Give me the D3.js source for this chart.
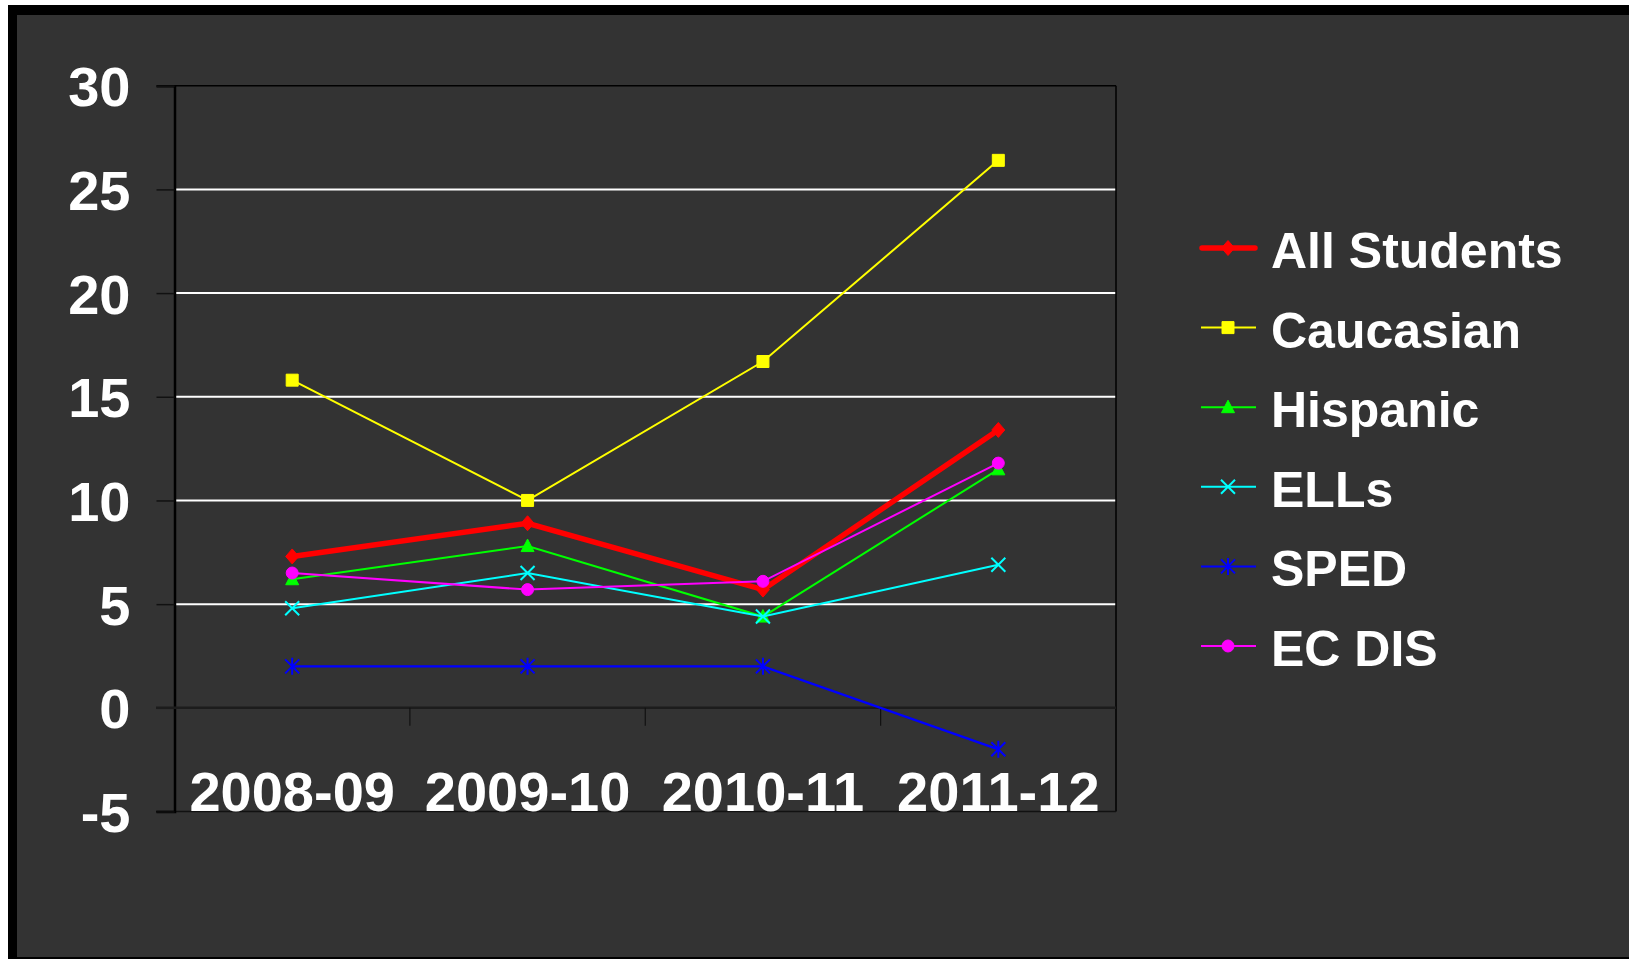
<!DOCTYPE html>
<html>
<head>
<meta charset="utf-8">
<script src="https://cdn.jsdelivr.net/npm/d3@7.9.0/dist/d3.min.js"></script>
<style>
  html, body { margin: 0; padding: 0; background: #fff; }
  svg { display: block; }
  text { font-family: "Liberation Sans", Arial, sans-serif; font-weight: bold; fill: #fff; }
</style>
</head>
<body>
<svg id="chart" width="1629" height="959"></svg>
<script>
// data
let years = ['2008-09', '2009-10', '2010-11', '2011-12'];
let yTicks = [-5, 0, 5, 10, 15, 20, 25, 30];

let allStudents = [7.3, 8.9, 5.7, 13.4];
let caucasian = [15.8, 10.0, 16.7, 26.4];
let hispanic = [6.2, 7.8, 4.4, 11.5];
let ells = [4.8, 6.5, 4.4, 6.9];
let sped = [2.0, 2.0, 2.0, -2.0];
let ecDis = [6.5, 5.7, 6.1, 11.8];

let seriesNames = ['All Students', 'Caucasian', 'Hispanic', 'ELLs', 'SPED', 'EC DIS'];
let seriesValues = [allStudents, caucasian, hispanic, ells, sped, ecDis];
let seriesColors = ['#ff0000', '#ffff00', '#00ff00', '#00ffff', '#0000ff', '#ff00ff'];
let seriesMarkers = ['diamond', 'square', 'triangle', 'x', 'star', 'circle'];

let svg = d3.select('#chart');

// background + frame
svg.append('rect').attr('x', 8).attr('y', 5).attr('width', 1621).attr('height', 954).attr('fill', '#000');
svg.append('rect').attr('x', 17).attr('y', 15).attr('width', 1612).attr('height', 942).attr('fill', '#333333');

let x = d3.scaleBand().domain(years).range([174.5, 1116]);
let y = d3.scaleLinear().domain([-5, 30]).range([811.5, 85.7]);

// gridlines
yTicks.filter((t) => t > 0 && t < 30).forEach((t) => {
  svg.append('line')
    .attr('x1', 174.5).attr('x2', 1116)
    .attr('y1', y(t)).attr('y2', y(t))
    .attr('stroke', '#fff').attr('stroke-width', 2);
});

// plot border (top, right, bottom)
svg.append('line').attr('x1', 174.5).attr('x2', 1116).attr('y1', y(30)).attr('y2', y(30))
  .attr('stroke', '#000').attr('stroke-width', 1.5);
svg.append('line').attr('x1', 1116).attr('x2', 1116).attr('y1', y(30)).attr('y2', y(-5))
  .attr('stroke', '#000').attr('stroke-width', 1.5);
svg.append('line').attr('x1', 156).attr('x2', 1116).attr('y1', y(-5)).attr('y2', y(-5))
  .attr('stroke', '#111').attr('stroke-width', 1.5);

// y axis
let yAxis = d3.axisLeft(y).tickValues(yTicks).tickSize(18).tickPadding(26)
  .tickFormat((d) => String(d));
let gy = svg.append('g').attr('transform', 'translate(174.5,0)').call(yAxis);
gy.select('.domain').attr('stroke', '#000').attr('stroke-width', 2.5);
gy.selectAll('.tick line').attr('stroke', '#111').attr('stroke-width', 1.5);
gy.selectAll('.tick text')
  .attr('fill', '#fff').attr('font-size', 56)
  .attr('font-family', '"Liberation Sans", Arial, sans-serif')
  .attr('font-weight', 'bold')
  .attr('dy', '0.36em');

// x axis at zero with ticks between categories
svg.append('line').attr('x1', 156).attr('x2', 1116).attr('y1', y(0)).attr('y2', y(0))
  .attr('stroke', '#1c1c1c').attr('stroke-width', 2.5);
years.slice(1).forEach((yr) => {
  svg.append('line')
    .attr('x1', x(yr)).attr('x2', x(yr))
    .attr('y1', y(0)).attr('y2', y(0) + 18)
    .attr('stroke', '#111').attr('stroke-width', 1.2);
});
years.forEach((yr) => {
  svg.append('text')
    .attr('x', x(yr) + x.bandwidth() / 2)
    .attr('y', 811)
    .attr('text-anchor', 'middle')
    .attr('font-size', 56)
    .text(yr);
});

// marker shapes
function markerPath(kind) {
  if (kind === 'diamond') return 'M0,-7.5L6.5,0L0,7.5L-6.5,0Z';
  if (kind === 'square') return 'M-6,-6H6V6H-6Z';
  if (kind === 'triangle') return 'M0,-7L6.5,5.5H-6.5Z';
  if (kind === 'x') return 'M-7,-7L7,7M7,-7L-7,7';
  if (kind === 'star') return 'M-7,-7L7,7M7,-7L-7,7M0,-8.5V8.5';
  return d3.symbol(d3.symbolCircle, 113)();
}

function drawMarker(g, kind, color, cx, cy) {
  let open = kind === 'x' || kind === 'star';
  g.append('path')
    .attr('d', markerPath(kind))
    .attr('transform', `translate(${cx},${cy})`)
    .attr('fill', open ? 'none' : color)
    .attr('stroke', color)
    .attr('stroke-width', open ? 2 : 1);
}

let line = d3.line()
  .x((d, i) => x(years[i]) + x.bandwidth() / 2)
  .y((d) => y(d));

seriesValues.forEach((vals, s) => {
  let g = svg.append('g');
  g.append('path')
    .attr('d', line(vals))
    .attr('fill', 'none')
    .attr('stroke', seriesColors[s])
    .attr('stroke-width', s === 0 ? 5.5 : (s === 4 ? 2.4 : 2));
  vals.forEach((v, i) => {
    drawMarker(g, seriesMarkers[s], seriesColors[s], x(years[i]) + x.bandwidth() / 2, y(v));
  });
});

// legend
let legendTop = 268;
let legendStep = 79.6;
seriesNames.forEach((name, s) => {
  let base = legendTop + s * legendStep;
  let ly = base - 20;
  let g = svg.append('g');
  g.append('line')
    .attr('x1', s === 0 ? 1202 : 1201).attr('x2', s === 0 ? 1255 : 1256)
    .attr('y1', ly).attr('y2', ly)
    .attr('stroke', seriesColors[s])
    .attr('stroke-width', s === 0 ? 5.5 : 2)
    .attr('stroke-linecap', s === 0 ? 'round' : 'butt');
  drawMarker(g, seriesMarkers[s], seriesColors[s], 1228, ly);
  g.append('text')
    .attr('x', 1271)
    .attr('y', base)
    .attr('font-size', 50)
    .text(name);
});
</script>
</body>
</html>
